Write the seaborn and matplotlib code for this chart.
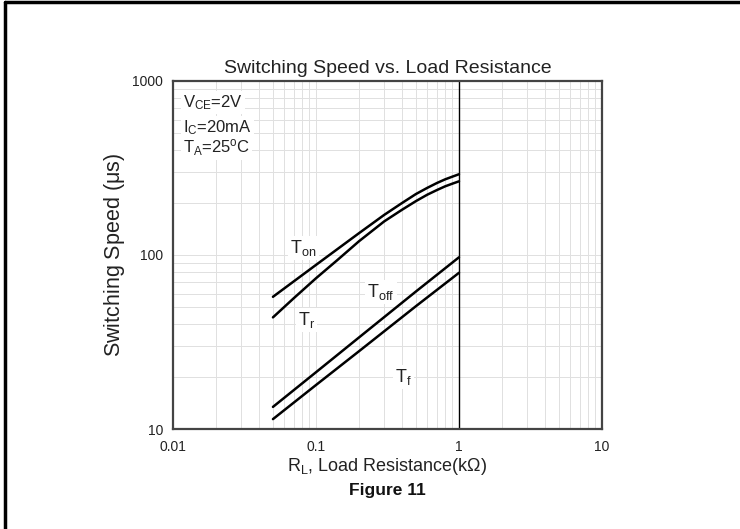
import numpy as np
import pandas as pd
import matplotlib.pyplot as plt
import seaborn as sns
from matplotlib.lines import Line2D
from matplotlib.ticker import LogLocator, NullFormatter, FixedLocator, FixedFormatter

# curve data (R_L in kOhm, time in us)
r_on = [0.05, 0.1, 0.2, 0.3, 0.4, 0.5, 0.6, 0.7, 0.8, 0.9, 1.0]
t_on = [57.5, 87.7, 133.5, 170, 199, 224, 243, 259, 272, 282, 291]

r_r = [0.05, 0.07, 0.1, 0.14, 0.2, 0.3, 0.4, 0.5, 0.6, 0.7, 0.8, 0.9, 1.0]
t_r = [43.8, 56.5, 73.5, 93, 120, 156, 182, 204, 222, 236, 248, 257, 265]

r_off = [0.05, 0.1, 0.2, 0.5, 1.0]
t_off = [13.4, 21.2, 33.6, 61.7, 97]

r_f = [0.05, 0.1, 0.2, 0.5, 1.0]
t_f = [11.4, 17.9, 28, 50.8, 79]

x_ticks = [0.01, 0.1, 1, 10]
x_tick_labels = ["0.01", "0.1", "1", "10"]
y_ticks = [10, 100, 1000]
y_tick_labels = ["10", "100", "1000"]

sns.set_style("white")
plt.rcParams['font.family'] = ['Liberation Sans', 'DejaVu Sans']
plt.rcParams['mathtext.fontset'] = 'custom'
plt.rcParams['mathtext.rm'] = 'Liberation Sans'
plt.rcParams['mathtext.it'] = 'Liberation Sans:italic'

df = pd.concat([
    pd.DataFrame({'R': r_on, 'T': t_on, 'curve': 'Ton'}),
    pd.DataFrame({'R': r_r, 'T': t_r, 'curve': 'Tr'}),
    pd.DataFrame({'R': r_off, 'T': t_off, 'curve': 'Toff'}),
    pd.DataFrame({'R': r_f, 'T': t_f, 'curve': 'Tf'}),
])

fig = plt.figure(figsize=(7.4, 5.29), dpi=100)
ax = fig.add_axes([0.2338, 0.189, 0.5797, 0.658])

sns.lineplot(data=df, x='R', y='T', hue='curve', units='curve', estimator=None,
             palette={'Ton': 'black', 'Tr': 'black', 'Toff': 'black', 'Tf': 'black'},
             linewidth=1.8, legend=False, ax=ax)

ax.set_xscale('log')
ax.set_yscale('log')
ax.set_xlim(0.01, 10)
ax.set_ylim(10, 1000)

# grid
ax.xaxis.set_minor_locator(LogLocator(base=10, subs=np.arange(2, 10)))
ax.yaxis.set_minor_locator(LogLocator(base=10, subs=np.arange(2, 10)))
ax.xaxis.set_minor_formatter(NullFormatter())
ax.yaxis.set_minor_formatter(NullFormatter())
ax.xaxis.set_major_locator(FixedLocator(x_ticks))
ax.xaxis.set_major_formatter(FixedFormatter(x_tick_labels))
ax.yaxis.set_major_locator(FixedLocator(y_ticks))
ax.yaxis.set_major_formatter(FixedFormatter(y_tick_labels))
ax.grid(True, which='both', color='#e0e0e0', linewidth=0.7)
ax.set_axisbelow(True)
ax.axvline(1, color='black', linewidth=1.0, zorder=1.5)

ax.tick_params(which='both', length=0, labelsize=10, colors='#222222')
ax.tick_params(axis='y', pad=7)
ax.tick_params(axis='x', pad=8)
for s in ax.spines.values():
    s.set_color('#444444')
    s.set_linewidth(1.6)

ax.set_title('Switching Speed vs. Load Resistance', fontsize=14, pad=6, color='#222222')
ax.set_ylabel(r'Switching Speed ($\mathregular{\mu}$s)', fontsize=15.5, labelpad=4, color='#222222')
ax.set_xlabel(r'$\mathregular{R_L}$, Load Resistance(k$\mathregular{\Omega}$)', fontsize=13, labelpad=1, color='#222222')

# test conditions box
box = dict(facecolor='white', edgecolor='none', pad=1.5)
cond = [r'$\mathregular{V_{CE}}$=2V', r'$\mathregular{I_C}$=20mA', r'$\mathregular{T_A}$=25$\mathregular{^o}$C']
cond_y = [0.925, 0.853, 0.793]
for txt, yy in zip(cond, cond_y):
    ax.text(0.023, yy, txt, transform=ax.transAxes, fontsize=12, va='baseline',
            ha='left', color='#222222', bbox=box, zorder=3)

# curve labels
labels = [r'$\mathregular{T_{on}}$', r'$\mathregular{T_{off}}$', r'$\mathregular{T_r}$', r'$\mathregular{T_f}$']
lab_x = [0.0658, 0.2276, 0.0748, 0.3568]
lab_y = [102.7, 57.4, 39.6, 18.6]
for txt, xx, yy in zip(labels, lab_x, lab_y):
    ax.text(xx, yy, txt, fontsize=13, va='baseline', ha='left', color='#222222',
            bbox=box, zorder=3)

fig.text(0.523, 0.072, 'Figure 11', fontsize=12.5, fontweight='bold',
         ha='center', va='center', color='#111111')

# outer frame (left and top edges of the scanned page)
fig.add_artist(Line2D([5 / 740, 5 / 740], [0, 1 - 2 / 529], color='black', linewidth=2.5,
                      transform=fig.transFigure))
fig.add_artist(Line2D([5 / 740, 1], [1 - 2 / 529, 1 - 2 / 529], color='black', linewidth=2.5,
                      transform=fig.transFigure))

fig.savefig('out.png', dpi=100)
